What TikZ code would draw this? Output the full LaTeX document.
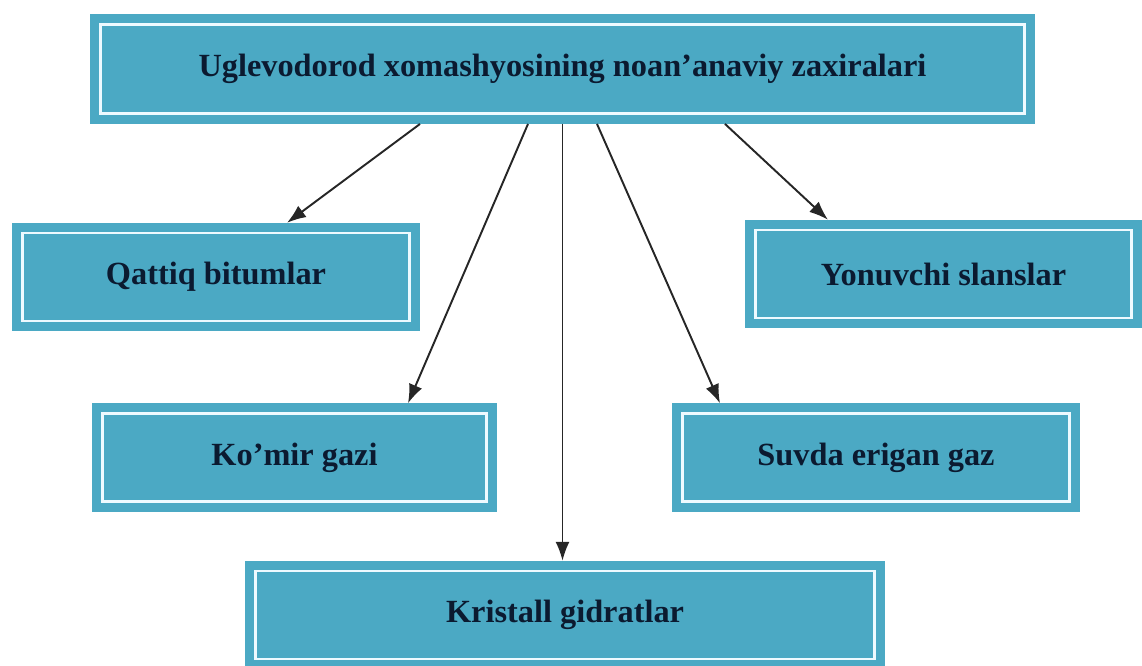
\documentclass[tikz,border=0pt]{standalone}
\usepackage{fontspec}
\setmainfont{Liberation Serif}
\usepackage{tikz}
\usetikzlibrary{positioning,arrows.meta}
\definecolor{boxteal}{HTML}{4BA9C4}
\definecolor{boxline}{HTML}{EEFAFF}
\definecolor{boxtext}{HTML}{0B1A30}

\begin{document}
\begin{tikzpicture}[
box/.style={draw=boxteal, line width=5pt, double=boxline, double distance=1.6pt, fill=boxteal, outer sep=5.8pt, minimum height=1.76cm, align=center, font=\fontsize{18.4}{22}\selectfont\bfseries, text=boxtext},
arrow/.style={-{Latex[length=3.8mm,width=2.8mm]}, line width=1.1pt, black!85}
]
\useasboundingbox (0,0) rectangle (22.84,-13.3);
\node[box, minimum width=18.49cm, minimum height=1.79cm] (source) at (11.25,-1.38) {Uglevodorod xomashyosining noan’anaviy zaxiralari};
\node[box, minimum width=7.75cm] (bitum) at (4.32,-5.54) {Qattiq bitumlar};
\node[box, minimum width=7.53cm] (slanets) at (18.87,-5.48) {Yonuvchi slanslar};
\node[box, minimum width=7.69cm] (komir) at (5.89,-9.15) {Ko’mir gazi};
\node[box, minimum width=7.75cm] (suvda) at (17.52,-9.15) {Suvda erigan gaz};
\node[box, minimum width=12.39cm] (gidrat) at (11.30,-12.30) {Kristall gidratlar};
\draw[arrow] ([xshift=-2.85cm]source.south) -- ([xshift=1.42cm]bitum.north);
\draw[arrow] ([xshift=-0.69cm]source.south) -- ([xshift=2.27cm]komir.north);
\draw[arrow] (source.south) -- (source.south |- gidrat.north);
\draw[arrow] ([xshift=0.69cm]source.south) -- ([xshift=-3.12cm]suvda.north);
\draw[arrow] ([xshift=3.25cm]source.south) -- ([xshift=-2.31cm]slanets.north);
\end{tikzpicture}
\end{document}
